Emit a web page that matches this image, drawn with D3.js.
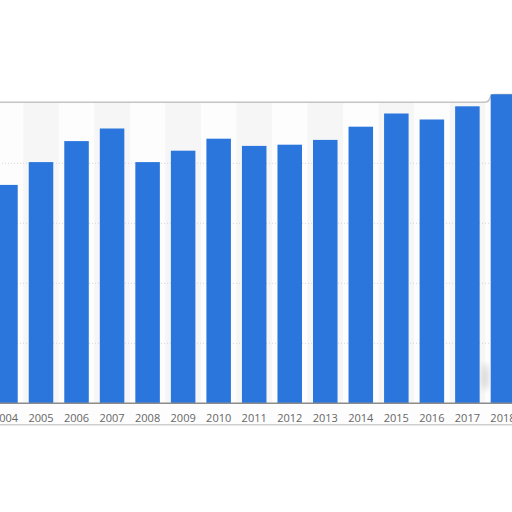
<!DOCTYPE html>
<html>
<head>
<meta charset="utf-8">
<script src="https://cdn.jsdelivr.net/npm/d3@7"></script>
<style>
  html, body { margin: 0; padding: 0; background: #fff; }
  svg { display: block; }
</style>
</head>
<body>
<div id="chart"></div>
<script>
var width = 512, height = 512;

// data (no y labels visible, one gridline = 1 unit)
var years = ["2004","2005","2006","2007","2008","2009","2010","2011","2012",
             "2013","2014","2015","2016","2017","2018"];
var values = [3.64, 4.02, 4.37, 4.58, 4.02, 4.21, 4.41, 4.29, 4.31,
              4.39, 4.61, 4.83, 4.73, 4.95, 5.15];
var yTicks = [1, 2, 3, 4];

var svg = d3.select("#chart").append("svg")
  .attr("width", width)
  .attr("height", height);

// the picture is a crop, so the band range runs past both edges
var x = d3.scaleBand()
  .domain(years)
  .range([-12.3, 520.7])
  .paddingInner(0.31)
  .paddingOuter(0.155);

var y = d3.scaleLinear()
  .domain([0, 5])
  .range([403.3, 103.3]);

var defs = svg.append("defs");
defs.append("filter").attr("id", "blur")
  .append("feGaussianBlur").attr("stdDeviation", 3);
defs.append("filter").attr("id", "soft")
  .append("feGaussianBlur").attr("stdDeviation", 1.2);

// shadow under the bottom edge of the card
svg.append("line")
  .attr("x1", -10).attr("x2", 520)
  .attr("y1", 427).attr("y2", 427)
  .attr("stroke", "#d4d4d4")
  .attr("stroke-width", 3)
  .attr("filter", "url(#soft)");

// card background
svg.append("rect")
  .attr("x", -10).attr("y", 102.3)
  .attr("width", 540).attr("height", 322.5)
  .attr("fill", "#fdfdfd");

// alternating column shading
svg.selectAll(".band")
  .data(years.filter(function(d, i) { return i % 2 == 1; }))
  .enter().append("rect")
  .attr("class", "band")
  .attr("x", function(d) { return x(d) - x.step() * x.paddingInner() / 2; })
  .attr("y", 103)
  .attr("width", x.step())
  .attr("height", y(0) - 103)
  .attr("fill", "#f6f6f6");

// dotted gridlines
svg.selectAll(".grid")
  .data(yTicks)
  .enter().append("line")
  .attr("class", "grid")
  .attr("x1", -10).attr("x2", 520)
  .attr("y1", function(d) { return y(d); })
  .attr("y2", function(d) { return y(d); })
  .attr("stroke", "#d6d6d6")
  .attr("stroke-width", 1)
  .attr("stroke-dasharray", "1,2");

// top edge of the card, it kinks up over the last bar
svg.append("path")
  .attr("d", "M-10,102.3 L484,102.3 Q489,102.3 490,98 Q491,94.6 495,94.6 L520,94.6")
  .attr("fill", "none")
  .attr("stroke", "#c4c4c4")
  .attr("stroke-width", 1.6);

// bottom edge
svg.append("line")
  .attr("x1", -10).attr("x2", 520)
  .attr("y1", 424.8).attr("y2", 424.8)
  .attr("stroke", "#cfcfcf")
  .attr("stroke-width", 1.4);

// smudge between the last two bars
svg.append("ellipse")
  .attr("cx", 485).attr("cy", 377)
  .attr("rx", 4).attr("ry", 13)
  .attr("fill", "#d8d8d8")
  .attr("filter", "url(#blur)");

// bars
svg.selectAll(".bar")
  .data(values)
  .enter().append("rect")
  .attr("class", "bar")
  .attr("x", function(d, i) { return x(years[i]); })
  .attr("y", function(d) { return y(d); })
  .attr("width", x.bandwidth())
  .attr("height", function(d) { return y(0) - y(d); })
  .attr("fill", "#2a76dc");

// x axis
var xAxis = svg.append("g")
  .attr("transform", "translate(0," + y(0) + ")")
  .call(d3.axisBottom(x).tickSize(0).tickPadding(11));

xAxis.select(".domain")
  .attr("d", "M-10,0H520")
  .attr("stroke", "#8c8c8c")
  .attr("stroke-width", 1.5);

xAxis.selectAll("text")
  .attr("fill", "#666")
  .style("font-family", "'Open Sans', sans-serif")
  .style("font-size", "11px");
</script>
</body>
</html>
